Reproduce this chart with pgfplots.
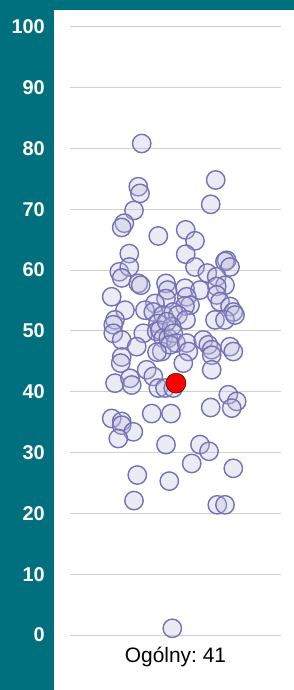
\documentclass[border=0pt]{standalone}
\usepackage{pgfplots}
\pgfplotsset{compat=1.18}
\usepackage{pgfplotstable}
\usepackage{fontspec}
\setmainfont{Liberation Sans}
\frenchspacing
\definecolor{teal0}{RGB}{0,112,127}
\definecolor{ptfill}{RGB}{188,189,220}
\definecolor{ptline}{RGB}{118,113,182}
\definecolor{gridc}{RGB}{208,208,208}

\pgfplotstableread{
x y
141.7 80.8
138.3 73.7
140.0 72.6
215.7 74.8
210.7 70.8
134.0 69.8
124.3 67.7
121.7 67.0
185.7 66.6
158.3 65.6
195.0 64.8
129.3 62.7
185.7 62.6
195.0 60.5
226.7 61.6
225.0 61.4
230.0 60.5
119.3 59.7
129.3 60.5
121.7 58.7
138.3 57.8
140.7 57.5
207.3 59.5
216.7 58.9
225.0 57.5
216.7 57.3
166.0 57.8
167.7 56.7
185.0 57.0
200.0 56.7
111.7 55.6
186.7 55.6
190.0 54.2
185.0 54.1
166.0 55.3
155.0 54.5
216.7 55.9
220.0 54.8
230.0 54.0
233.3 53.1
125.0 53.4
145.0 53.4
153.3 53.1
163.3 52.6
173.3 53.1
178.0 52.6
215.0 51.8
225.0 51.8
115.0 51.8
113.3 51.0
235.0 52.6
158.0 51.2
186.0 51.8
113.3 49.6
121.7 48.5
143.3 49.6
136.7 47.4
156.7 49.9
160.0 50.1
163.3 48.8
161.7 46.6
168.3 48.8
171.7 50.7
166.7 51.5
173.3 49.6
176.0 48.0
170.0 47.7
157.0 46.5
186.7 48.0
188.3 46.6
183.3 44.7
203.3 48.5
208.3 47.7
211.7 46.9
211.7 46.0
211.7 43.6
230.0 47.4
233.3 46.6
121.7 45.7
120.7 44.7
115.0 41.4
130.0 42.2
131.7 41.1
146.7 43.6
153.3 42.5
158.3 40.6
165.0 40.6
173.3 40.6
228.3 39.5
236.7 38.4
231.7 37.3
210.7 37.4
151.7 36.4
171.0 36.4
111.7 35.6
121.7 35.1
121.7 34.5
133.3 33.4
118.3 32.3
166.0 31.3
200.0 31.3
209.0 30.2
191.7 28.2
233.3 27.4
137.3 26.3
169.3 25.3
134.0 22.1
217.3 21.4
225.0 21.4
172.3 1.1
}\pts

\pgfplotstableread{
x y
176.0 41.4
}\meanpt

\begin{document}
\begin{tikzpicture}
\fill[teal0] (0,0) rectangle (294bp,690bp);
\fill[white] (54bp,0) rectangle (294bp,680bp);
\begin{axis}[
  at={(70bp,55bp)}, anchor=south west,
  scale only axis, width=211bp, height=608.3bp,
  xmin=70, xmax=281, ymin=0, ymax=100,
  clip=false,
  axis line style={draw=none},
  tick style={draw=none},
  major tick length=0pt,
  ytick={0,10,...,100},
  ymajorgrids,
  grid style={draw=gridc, line width=1bp},
  xtick={175.5},
  xticklabels={Ogólny:\ 41},
  /pgf/number format/assume math mode=true,
  yticklabel style={text=white, font=\fontsize{20}{24}\selectfont\bfseries, anchor=east, inner sep=0pt, xshift=-25bp},
  xticklabel style={text=black, font=\fontsize{21}{25}\selectfont, anchor=north, inner sep=0pt, yshift=-12bp},
]
\addplot[only marks, mark=*, mark size=9.2bp,
  mark options={draw=ptline, line width=1.4bp, fill=ptfill, fill opacity=0.3}]
  table[x=x,y=y]{\pts};
\addplot[only marks, mark=*, mark size=10bp,
  mark options={draw=none, fill=red}]
  table[x=x,y=y]{\meanpt};
\end{axis}
\pgfresetboundingbox
\useasboundingbox (0,0) rectangle (294bp,690bp);
\end{tikzpicture}
\end{document}
